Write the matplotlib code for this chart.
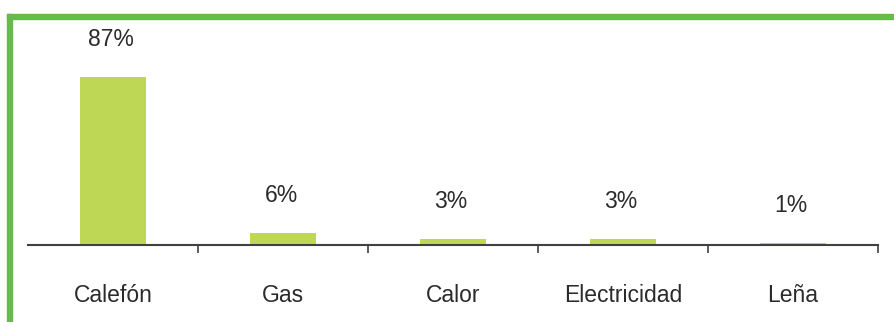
import matplotlib.pyplot as plt
from matplotlib.patches import Rectangle
import numpy as np

plt.rcParams['font.family'] = ['Liberation Sans', 'DejaVu Sans']

categorias = ['Calefón', 'Gas', 'Calor', 'Electricidad', 'Leña']
porcentajes = [87, 6, 3, 3, 1]

color_barra = '#BED754'
color_marco = '#66BB4C'
color_texto = '#2B2B2B'
color_eje = '#404040'

W, H = 894, 322
fig = plt.figure(figsize=(W / 100, H / 100), dpi=100)
ax = fig.add_axes([28 / W, (H - 245) / H, 850 / W, 227 / H])

x = np.arange(len(categorias))
ax.bar(x, porcentajes, width=0.39, color=color_barra, zorder=2)

# etiquetas de porcentaje, un poco por encima de cada barra
for xi, v in zip(x, porcentajes):
    ax.annotate(f'{v}%', (xi, v), xytext=(-2, 38), textcoords='offset pixels',
                ha='center', va='center', fontsize=16.5, color=color_texto)

ax.set_xlim(-0.5, len(categorias) - 0.5)
ax.set_ylim(0, 117.6)

for s in ['top', 'right', 'left']:
    ax.spines[s].set_visible(False)
ax.spines['bottom'].set_color(color_eje)
ax.spines['bottom'].set_linewidth(1.5)
ax.set_yticks([])

ax.set_xticks(x)
ax.set_xticklabels(categorias, fontsize=16.5, color=color_texto)
ax.tick_params(axis='x', which='major', length=0, pad=28)
ax.set_xticks(x + 0.5, minor=True)
ax.tick_params(axis='x', which='minor', length=6, width=1.2, color=color_eje, direction='out')

# marco verde arriba y a la izquierda
fig.patches.append(Rectangle((7 / W, (H - 19) / H), 1 - 7 / W, 5 / H,
                             transform=fig.transFigure, color=color_marco, zorder=5))
fig.patches.append(Rectangle((7 / W, 0), 5 / W, (H - 14) / H,
                             transform=fig.transFigure, color=color_marco, zorder=5))

fig.savefig('out.png', dpi=100)
